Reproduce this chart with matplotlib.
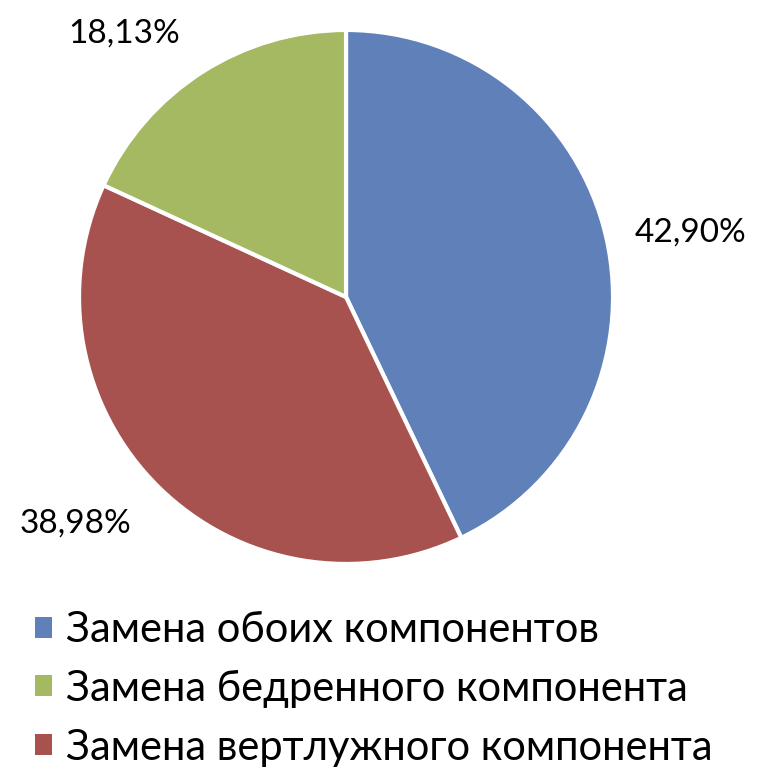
import matplotlib
matplotlib.use("Agg")
import matplotlib.pyplot as plt
from matplotlib.patches import Patch

plt.rcParams['font.family'] = ['Lato', 'DejaVu Sans']

# slices in drawing order (clockwise from the top)
names = [
    'Замена обоих компонентов',
    'Замена вертлужного компонента',
    'Замена бедренного компонента',
]
shares = [42.90, 38.98, 18.13]
colors = ['#6080B9', '#A8524F', '#A5B962']

# legend order as in the picture
legend_order = [0, 2, 1]

labels = [f'{v:.2f}%'.replace('.', ',') for v in shares]

fig = plt.figure(figsize=(7.68, 7.82), dpi=100)
ax = fig.add_axes([0.1029, 0.2788, 0.6953, 0.6829])

wedges, texts = ax.pie(
    shares,
    colors=colors,
    startangle=90,
    counterclock=False,
    labels=labels,
    labeldistance=1.3,
    wedgeprops=dict(edgecolor='white', linewidth=3),
    textprops=dict(fontsize=24),
)
# nudge labels to where they sit in the original
label_xy = [(1.29, 0.24), (-1.015, -0.85), (-0.83, 0.985)]
for t, (x, y) in zip(texts, label_xy):
    t.set_position((x, y))
    t.set_ha('center')
    t.set_va('center')

ax.set_xlim(-1, 1)
ax.set_ylim(-1, 1)
ax.set_aspect('equal')
ax.axis('off')

handles = [Patch(facecolor=colors[i], edgecolor='none') for i in legend_order]
fig.legend(
    handles,
    [names[i] for i in legend_order],
    loc='upper left',
    bbox_to_anchor=(0.024, 0.24),
    frameon=False,
    fontsize=30,
    handlelength=0.4,
    handleheight=0.4,
    handletextpad=0.35,
    labelspacing=0.5,
    borderaxespad=0,
)

fig.savefig('out.png', dpi=100)
